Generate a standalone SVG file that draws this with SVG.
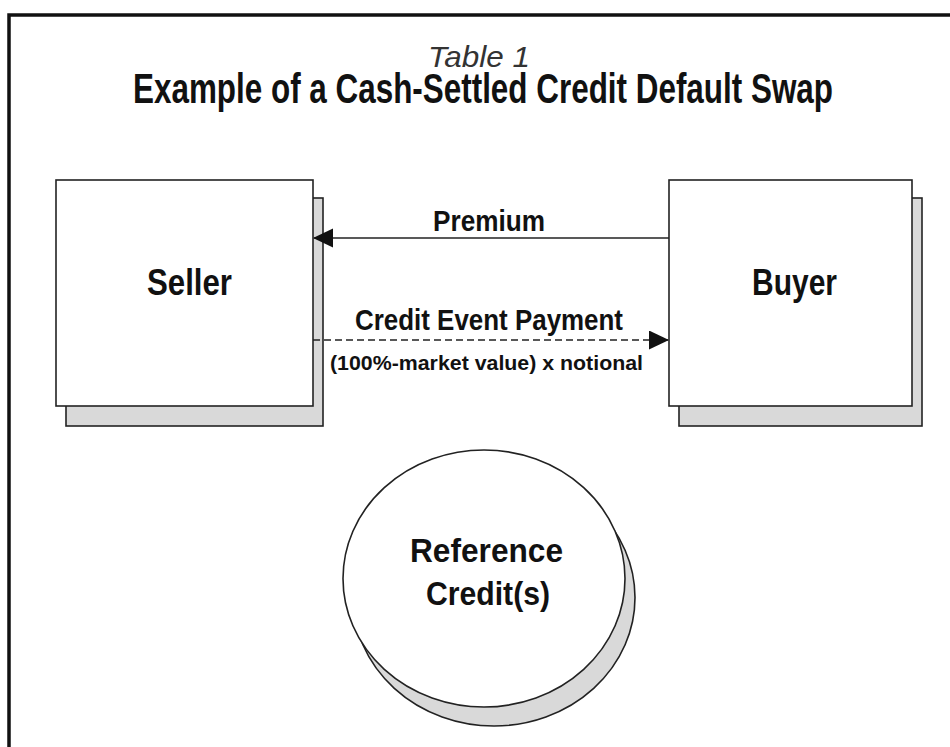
<svg xmlns="http://www.w3.org/2000/svg" width="950" height="747" viewBox="0 0 950 747">
<defs>
<style>
.frame{fill:none;stroke:#111;stroke-width:3.5}
.box{fill:#fff;stroke:#222;stroke-width:1.6}
.shadow{fill:#d9d9d9;stroke:#222;stroke-width:1.6}
.lbl{font-family:"Liberation Sans",Arial,sans-serif;font-weight:bold;fill:#111;text-anchor:middle}
.conn{stroke:#222;stroke-width:1.6;fill:none}
</style>
<marker id="ah" markerUnits="userSpaceOnUse" markerWidth="20" markerHeight="20" refX="19" refY="9.5" orient="auto">
<path d="M0,0 L20,9.5 L0,19 z" fill="#111"/>
</marker>
</defs>
<rect width="950" height="747" fill="#fff"/>
<path class="frame" d="M9,747 V15 H950"/>
<text x="479" y="67" text-anchor="middle" font-family="Liberation Sans,Arial,sans-serif" font-style="italic" font-size="30" fill="#333" textLength="102" lengthAdjust="spacingAndGlyphs">Table 1</text>
<text class="lbl" x="483" y="103" font-size="43" textLength="700" lengthAdjust="spacingAndGlyphs">Example of a Cash-Settled Credit Default Swap</text>
<g id="seller">
<rect class="shadow" x="66" y="198" width="257" height="228"/>
<rect class="box" x="56" y="180" width="257" height="226"/>
<text class="lbl" x="189.5" y="295" font-size="37" textLength="85" lengthAdjust="spacingAndGlyphs">Seller</text>
</g>
<g id="buyer">
<rect class="shadow" x="679" y="198" width="243" height="228"/>
<rect class="box" x="669" y="180" width="243" height="226"/>
<text class="lbl" x="794.5" y="295" font-size="37" textLength="85" lengthAdjust="spacingAndGlyphs">Buyer</text>
</g>
<g id="reference">
<ellipse class="shadow" cx="494" cy="597.5" rx="141" ry="128.5"/>
<ellipse class="box" cx="484" cy="578.5" rx="141" ry="128.5"/>
<text class="lbl" x="486.5" y="562" font-size="33" textLength="153" lengthAdjust="spacingAndGlyphs">Reference</text>
<text class="lbl" x="488" y="605" font-size="33" textLength="124" lengthAdjust="spacingAndGlyphs">Credit(s)</text>
</g>
<g id="connectors">
<line class="conn" x1="669" y1="238" x2="314" y2="238" marker-end="url(#ah)"/>
<line class="conn" x1="313" y1="340" x2="668" y2="340" stroke-dasharray="7,4" marker-end="url(#ah)"/>
<text class="lbl" x="489" y="231" font-size="30" textLength="112" lengthAdjust="spacingAndGlyphs">Premium</text>
<text class="lbl" x="489" y="330" font-size="30" textLength="268" lengthAdjust="spacingAndGlyphs">Credit Event Payment</text>
<text class="lbl" x="486.5" y="370" font-size="21" textLength="313" lengthAdjust="spacingAndGlyphs">(100%-market value) x notional</text>
</g>
</svg>
